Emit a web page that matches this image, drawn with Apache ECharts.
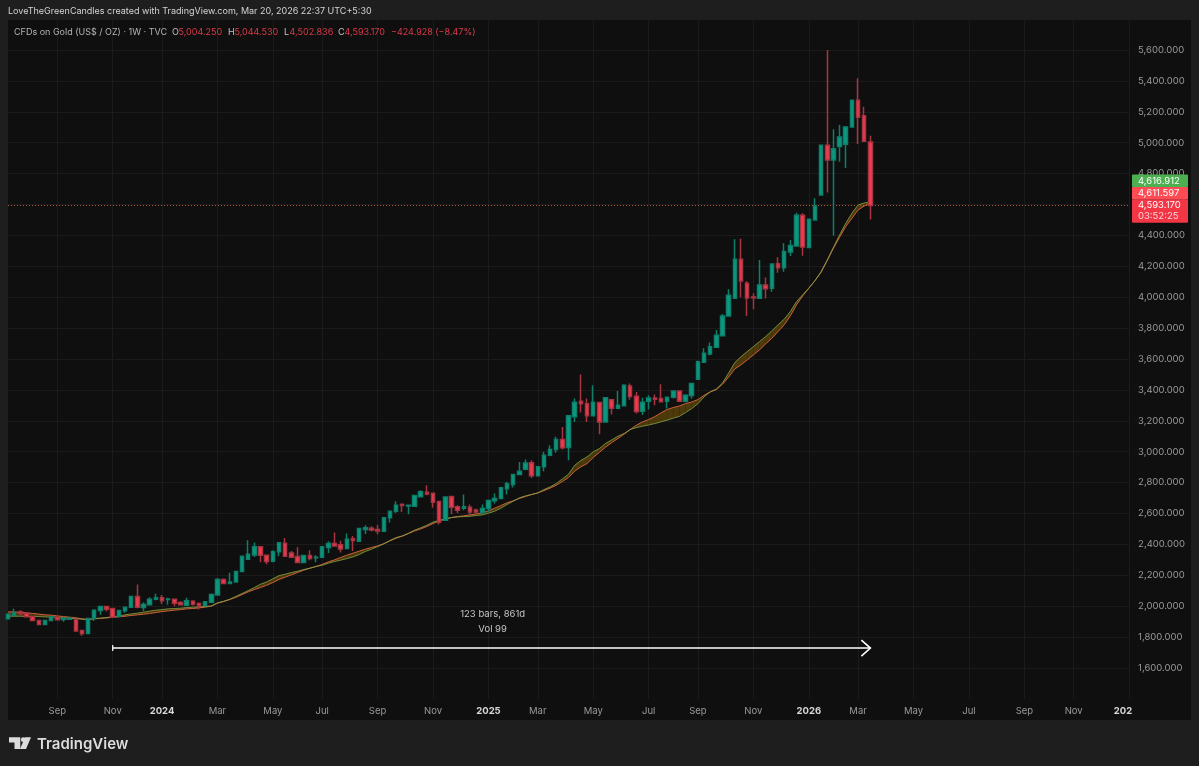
<!DOCTYPE html>
<html><head><meta charset="utf-8">
<style>html,body{margin:0;padding:0;background:#1e1e1e}#c{width:1199px;height:766px}</style>
<script src="https://cdn.jsdelivr.net/npm/echarts@6/dist/echarts.min.js"></script>
</head><body><div id="c"></div>
<script>
const firstWeek = '2023-07-10';
const weekCount = 183;
const opens = [1918,1942,1963,1955,1933,1907,1881,1907,1929,1914,1916,1916,1842,1823,1920,1972,1998,1985,1935,1970,1994,2063,1991,2009,2045,2054,2043,2045,2024,2006,2032,2017,2004,2026,2073,2173,2147,2157,2224,2304,2332,2384,2330,2291,2352,2408,2345,2321,2283,2328,2313,2317,2380,2406,2397,2373,2436,2421,2496,2505,2496,2485,2572,2615,2660,2649,2647,2708,2738,2731,2677,2556,2710,2643,2634,2641,2623,2606,2632,2682,2697,2761,2787,2852,2887,2929,2845,2902,2977,3014,3079,3027,3227,3326,3311,3232,3318,3193,3337,3281,3298,3426,3359,3262,3327,3348,3344,3326,3352,3393,3326,3363,3469,3579,3633,3676,3751,3879,3993,4245,4090,4001,3993,4079,4058,4217,4191,4293,4332,4530,4321,4500,4662,4983,4888,4976,4990,5102,5274,5175,5004.25];
const closes = [1948,1957,1953,1931,1907,1881,1907,1931,1912,1922,1922,1840,1821,1920,1974,1998,1981,1929,1972,1994,2063,1994,2011,2045,2054,2035,2047,2019,2009,2035,2013,2002,2028,2075,2173,2147,2157,2224,2324,2336,2384,2330,2289,2352,2410,2324,2317,2283,2328,2308,2317,2384,2406,2390,2371,2434,2425,2503,2507,2494,2487,2572,2615,2654,2651,2653,2716,2740,2727,2673,2544,2707,2641,2621,2643,2610,2610,2632,2684,2697,2766,2792,2852,2874,2927,2845,2902,2977,3014,3079,3025,3232,3320,3311,3232,3320,3193,3350,3281,3301,3430,3357,3260,3320,3348,3339,3324,3352,3393,3326,3365,3441,3583,3637,3680,3754,3879,4012,4245,4105,3995,3997,4079,4055,4215,4191,4295,4334,4530,4325,4504,4591,4983,4888,4961,5037,5102,5274,5164,5009,4593.17];
const highs = [1952,1983,1974,1963,1938,1910,1912,1936,1933,1931,1929,1920,1845,1925,1981,2000,2000,1987,1974,1998,2066,2140,2026,2058,2080,2073,2054,2050,2032,2054,2039,2024,2030,2083,2183,2180,2216,2228,2326,2427,2412,2386,2332,2362,2412,2442,2358,2382,2330,2362,2330,2386,2418,2477,2423,2470,2455,2505,2524,2518,2526,2574,2617,2680,2664,2653,2720,2750,2783,2733,2677,2710,2712,2654,2723,2658,2630,2658,2690,2729,2770,2805,2858,2934,2949,2945,2906,2999,3042,3096,3160,3234,3344,3499,3344,3430,3320,3352,3339,3393,3437,3441,3387,3350,3365,3370,3437,3355,3398,3395,3372,3445,3590,3670,3706,3788,3892,4051,4375,4379,4103,4025,4241,4127,4219,4258,4349,4370,4547,4543,4506,4640,4985,5600,5087,5115,5108,5280,5417,5233,5044.53];
const lows = [1914,1931,1942,1927,1903,1878,1878,1905,1910,1899,1910,1838,1808,1820,1905,1944,1966,1925,1927,1957,1992,1987,1968,2004,2039,2015,2009,2000,2004,2004,2004,1978,2000,2024,2071,2145,2142,2155,2222,2302,2319,2285,2272,2285,2324,2319,2313,2281,2281,2298,2285,2313,2345,2386,2347,2369,2358,2419,2468,2485,2466,2483,2541,2604,2610,2595,2643,2703,2718,2638,2528,2552,2595,2604,2621,2587,2600,2595,2608,2664,2695,2723,2768,2848,2880,2830,2843,2873,2970,2994,3014,2945,3193,3253,3193,3230,3113,3191,3240,3277,3294,3337,3247,3238,3273,3301,3322,3279,3344,3322,3318,3344,3465,3576,3624,3674,3749,3874,3993,3999,3879,3922,3989,3991,4036,4159,4165,4267,4327,4269,4319,4498,4660,4677,4398,4877,4836,5100,4992,5009,4502.836];
const fastMA = [1963,1963,1961,1957,1953,1949,1944,1942,1937,1933,1929,1925,1918,1914,1918,1922,1924,1929,1931,1935,1940,1944,1948,1953,1959,1965,1970,1974,1978,1983,1985,1989,1994,2000,2019,2030,2043,2058,2075,2093,2108,2121,2136,2153,2173,2188,2203,2218,2233,2246,2257,2270,2287,2300,2315,2330,2343,2356,2369,2380,2390,2405,2423,2440,2453,2470,2487,2500,2516,2535,2552,2563,2574,2580,2585,2591,2597,2604,2617,2634,2651,2669,2682,2697,2710,2723,2733,2748,2764,2783,2807,2833,2874,2902,2923,2962,2996,3029,3059,3085,3113,3143,3171,3193,3208,3227,3251,3273,3286,3296,3311,3322,3337,3365,3387,3402,3437,3484,3536,3562,3594,3626,3659,3698,3734,3777,3821,3879,3950,4008,4058,4107,4161,4237,4317,4388,4457,4511,4565,4590,4611.597];
const slowMA = [1935,1935,1935,1933,1933,1933,1931,1929,1927,1925,1922,1920,1916,1914,1920,1922,1927,1931,1937,1944,1950,1955,1961,1968,1974,1978,1983,1985,1987,1991,1994,1996,1998,2002,2022,2032,2045,2063,2082,2101,2121,2142,2157,2177,2198,2207,2218,2226,2237,2246,2257,2265,2278,2289,2298,2308,2319,2334,2354,2369,2386,2403,2425,2444,2455,2472,2492,2507,2524,2544,2556,2565,2574,2578,2580,2582,2587,2591,2602,2615,2634,2658,2679,2701,2714,2723,2733,2755,2772,2794,2824,2854,2912,2943,2966,2999,3020,3053,3076,3100,3117,3143,3156,3165,3173,3182,3193,3204,3217,3229,3253,3279,3311,3355,3387,3406,3445,3510,3577,3615,3648,3680,3713,3745,3782,3821,3857,3907,3971,4015,4058,4107,4166,4241,4323,4403,4478,4543,4597,4610,4616.912];
const monthTicks = [[8,'Sep'],[17,'Nov'],[25,'2024'],[34,'Mar'],[43,'May'],[51,'Jul'],[60,'Sep'],[69,'Nov'],[78,'2025'],[86,'Mar'],[95,'May'],[104,'Jul'],[112,'Sep'],[121,'Nov'],[130,'2026'],[138,'Mar'],[147,'May'],[156,'Jul'],[165,'Sep'],[173,'Nov'],[181,'202']];
const gridWeeks = [8,17,25,34,43,51,60,69,78,86,95,104,112,121,130,138,147,156,165,173,182];
const measure = {startBar:17, endBar:140, price:1729, line1:'123 bars, 861d', line1Price:1950, line2:'Vol 99', line2Price:1850};
const lastClose = 4593.17;
const headerLine = 'LoveTheGreenCandles created with TradingView.com, Mar 20, 2026 22:37 UTC+5:30';
const symbolLine = 'CFDs on Gold (US$ / OZ) · 1W · TVC';
const ohlcText = [['O',172,'#c0c0c0'],['5,004.250',178.5,'#d93a48'],['H',228,'#c0c0c0'],['5,044.530',234.5,'#d93a48'],['L',284,'#c0c0c0'],['4,502.836',289.5,'#d93a48'],['C',338,'#c0c0c0'],['4,593.170',344.5,'#d93a48'],['−424.928 (−8.47%)',391,'#d93a48']];
const priceTags = [['4,616.912','#4caf50',174.5,12.7,180.8],['4,611.597','#ff4b54',187,12.7,193],['4,593.170','#f23645',199.7,23,205]];
const countdown = '03:52:25';

const FONT = 'Inter, Roboto, sans-serif';
const categories = [];
for (let i = 0, t = Date.parse(firstWeek + 'T00:00:00Z'); i < weekCount; i++, t += 7 * 864e5) categories.push(new Date(t).toISOString().slice(0, 10));
const labelAt = new Map(monthTicks);
const gridAt = new Set(gridWeeks);
const candles = opens.map((o, i) => [o, closes[i], lows[i], highs[i]]);
const bandData = fastMA.slice(0, -1).map((f, i) => [i, f, slowMA[i], fastMA[i + 1], slowMA[i + 1]]);

const chart = echarts.init(document.getElementById('c'), null, {renderer: 'canvas'});
const midText = (t, x, y, fill, font) => ({type:'text', z:61, x, y, style:{text:t, fill, font, verticalAlign:'middle'}});
const graphics = [
  {type:'rect', z:-1, silent:true, shape:{x:8,y:20,width:1183,height:700}, style:{fill:'#0f0f0f'}},
  midText(headerLine, 8, 11, '#d4d4d4', '400 9px '+FONT),
  midText(symbolLine, 14, 32, '#b4b4b4', '400 9px '+FONT),
  midText('TradingView', 37, 744, '#dcdcdc', '600 15px '+FONT),
  {type:'polygon', z:50, shape:{points:[[9,737.3],[20.3,737.3],[20.3,749],[14.5,749],[14.5,742.5],[9,742.5]]}, style:{fill:'#dcdcdc'}},
  {type:'circle', z:50, shape:{cx:23.3,cy:739.7,r:2.4}, style:{fill:'#dcdcdc'}},
  {type:'polygon', z:50, shape:{points:[[25,737.3],[31,737.3],[26,749],[20,749]]}, style:{fill:'#dcdcdc'}}
];
ohlcText.forEach(([t, x, c]) => graphics.push(midText(t, x, 32, c, '400 9px '+FONT)));
priceTags.forEach(([t, c, y, h, ty]) => {
  graphics.push({type:'rect', z:60, shape:{x:1132,y,width:56,height:h,r:1}, style:{fill:c}});
  graphics.push(midText(t, 1138, ty, '#ffffff', '400 9.5px '+FONT));
});
graphics.push(midText(countdown, 1138, 216, '#f6d5d9', '400 9.5px '+FONT));

chart.setOption({
  animation:false,
  backgroundColor:'#1e1e1e',
  graphic:graphics,
  grid:{left:8, right:69.9, top:19.1, bottom:67.1, containLabel:false},
  xAxis:{type:'category', data:categories, boundaryGap:false,
    axisLine:{show:false}, axisTick:{show:false},
    axisLabel:{interval:(i)=>labelAt.has(i), margin:7, hideOverlap:false,
      color:'#9a9a9a', fontFamily:FONT, fontSize:9.5,
      formatter:(v,i)=>{const s=labelAt.get(i)||''; return /^20/.test(s)?'{y|'+s+'}':s;},
      rich:{y:{color:'#d8d8d8',fontWeight:700,fontFamily:FONT,fontSize:9.5}}},
    splitLine:{show:true, interval:(i)=>gridAt.has(i), lineStyle:{color:'#1b1b1b',width:1}}},
  yAxis:{type:'value', position:'right', min:1400, max:5800, interval:200, scale:true,
    axisLine:{show:false}, axisTick:{show:false},
    axisLabel:{margin:9, color:'#9a9a9a', fontFamily:FONT, fontSize:9.5, showMinLabel:false, showMaxLabel:false,
      formatter:(v)=>v.toLocaleString('en-US',{minimumFractionDigits:3,maximumFractionDigits:3})},
    splitLine:{show:true, showMinLine:false, showMaxLine:false, lineStyle:{color:'#1b1b1b',width:1}}},
  series:[
    {name:'MA band', type:'custom', z:2, coordinateSystem:'cartesian2d', data:bandData, encode:{x:0,y:[1,2]}, clip:true, silent:true,
      renderItem:(p,api)=>{
        const a=api.coord([api.value(0),api.value(1)]), b=api.coord([api.value(0),api.value(2)]);
        const c=api.coord([api.value(0)+1,api.value(4)]), d=api.coord([api.value(0)+1,api.value(3)]);
        return {type:'polygon', shape:{points:[a,b,c,d]}, style:{fill:'#4c3a0c',stroke:'#4c3a0c',lineWidth:0.3}};
      }},
    {name:'MA fast', type:'line', z:3, data:fastMA, showSymbol:false, silent:true, lineStyle:{color:'#d2603c',width:1,opacity:0.95}},
    {name:'MA slow', type:'line', z:3, data:slowMA, showSymbol:false, silent:true, lineStyle:{color:'#7fa349',width:1,opacity:0.8}},
    {name:'CFDs on Gold', type:'candlestick', z:5, data:candles, barWidth:4, silent:true,
      itemStyle:{color:'#0b9a80', color0:'#f23d4f', borderColor:'#0c806b', borderColor0:'#a83442', borderWidth:1.5},
      markLine:{silent:true, symbol:'none', animation:false, label:{show:false},
        lineStyle:{color:'#b0563a',type:[1,2],width:1}, data:[{yAxis:lastClose}]}},
    {name:'Measure', type:'custom', z:6, coordinateSystem:'cartesian2d', data:[[measure.startBar,measure.price,measure.endBar]], encode:{x:0,y:1}, clip:false, silent:true,
      renderItem:(p,api)=>{
        const s=api.coord([measure.startBar,measure.price]), e=api.coord([measure.endBar,measure.price]);
        const mid=api.coord([(measure.startBar+measure.endBar)/2,measure.line1Price]), mid2=api.coord([(measure.startBar+measure.endBar)/2,measure.line2Price]);
        const ls={stroke:'#ffffff',lineWidth:1.6,fill:'none'};
        return {type:'group',children:[
          {type:'line',shape:{x1:s[0],y1:s[1],x2:e[0],y2:e[1]},style:ls},
          {type:'line',shape:{x1:s[0],y1:s[1]-3,x2:s[0],y2:s[1]+3},style:{stroke:'#ffffff',lineWidth:1.2}},
          {type:'polyline',shape:{points:[[e[0]-9,e[1]-8],[e[0],e[1]],[e[0]-9,e[1]+8]]},style:ls},
          {type:'text',x:mid[0]-2,y:mid[1],style:{text:measure.line1,fill:'#c4c4c4',font:'400 9.5px '+FONT,align:'center',verticalAlign:'middle'}},
          {type:'text',x:mid2[0]-2,y:mid2[1],style:{text:measure.line2,fill:'#c4c4c4',font:'400 9.5px '+FONT,align:'center',verticalAlign:'middle'}}
        ]};
      }}
  ]
});
</script></body></html>
